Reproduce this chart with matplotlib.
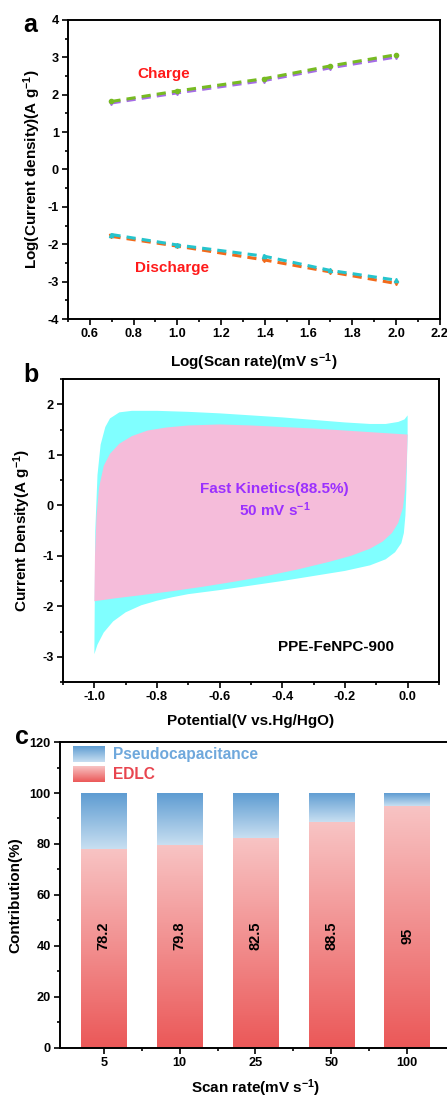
import matplotlib
matplotlib.use("Agg")
import matplotlib.pyplot as plt
import numpy as np
from matplotlib.colors import LinearSegmentedColormap
from matplotlib.ticker import MultipleLocator

plt.rcParams["font.family"] = ["Liberation Sans", "DejaVu Sans"]
plt.rcParams["font.weight"] = "bold"
plt.rcParams["axes.unicode_minus"] = False
plt.rcParams["mathtext.fontset"] = "custom"
plt.rcParams["mathtext.rm"] = "Liberation Sans:bold"
plt.rcParams["mathtext.bf"] = "Liberation Sans:bold"
plt.rcParams["mathtext.default"] = "bf"

# ---- panel a: log(i) vs log(v) ----
scan_rates = [5, 10, 25, 50, 100]
log_v = np.log10(scan_rates)
charge_pts = [1.82, 2.10, 2.43, 2.77, 3.07]
charge_fit = [1.78, 2.05, 2.38, 2.72, 3.01]
discharge_pts = [-1.74, -2.02, -2.32, -2.70, -2.96]
discharge_fit = [-1.79, -2.05, -2.42, -2.74, -3.05]

# ---- panel b: CV at 50 mV/s, total vs capacitive ----
cv_total_x = [-1.0, -0.997, -0.99, -0.98, -0.965, -0.95, -0.92, -0.88, -0.8, -0.7,
              -0.6, -0.5, -0.4, -0.3, -0.2, -0.12, -0.07, -0.03, -0.01, 0.0,
              0.0, -0.002, -0.004, -0.007, -0.012, -0.02, -0.04, -0.07, -0.12, -0.2,
              -0.3, -0.4, -0.5, -0.6, -0.7, -0.75, -0.8, -0.85, -0.9, -0.94,
              -0.97, -0.99, -1.0]
cv_total_y = [-2.95, -0.5, 0.6, 1.2, 1.55, 1.72, 1.84, 1.87, 1.87, 1.85,
              1.82, 1.78, 1.74, 1.69, 1.64, 1.61, 1.61, 1.65, 1.70, 1.78,
              1.40, 0.9, 0.3, -0.2, -0.55, -0.75, -0.93, -1.07, -1.19, -1.30,
              -1.40, -1.50, -1.59, -1.68, -1.76, -1.82, -1.89, -1.98, -2.12, -2.30,
              -2.52, -2.76, -2.95]
cv_cap_x = [-1.0, -0.998, -0.993, -0.985, -0.97, -0.95, -0.92, -0.88, -0.83, -0.77,
            -0.7, -0.6, -0.5, -0.4, -0.3, -0.2, -0.1, 0.0,
            0.0, -0.003, -0.008, -0.015, -0.03, -0.05, -0.08, -0.12, -0.18, -0.25,
            -0.35, -0.45, -0.55, -0.65, -0.75, -0.85, -0.93, -1.0]
cv_cap_y = [-1.9, -1.0, -0.2, 0.35, 0.78, 1.02, 1.22, 1.37, 1.48, 1.54,
            1.58, 1.60, 1.58, 1.55, 1.52, 1.48, 1.44, 1.40,
            1.40, 0.8, 0.3, -0.05, -0.35, -0.55, -0.72, -0.86, -1.00, -1.12,
            -1.27, -1.40, -1.51, -1.61, -1.70, -1.78, -1.84, -1.90]

# ---- panel c: contribution ratios ----
rate_labels = ["5", "10", "25", "50", "100"]
edlc = [78.2, 79.8, 82.5, 88.5, 95]
edlc_text = ["78.2", "79.8", "82.5", "88.5", "95"]
pseudo = [100 - e for e in edlc]

fig = plt.figure(figsize=(4.47, 10.97), dpi=100)
ax_a = fig.add_axes([0.152, 0.7092, 0.832, 0.2726])
ax_b = fig.add_axes([0.141, 0.3783, 0.841, 0.2762])
ax_c = fig.add_axes([0.134, 0.0447, 0.875, 0.2789])


def style(ax):
    for s in ax.spines.values():
        s.set_linewidth(1.4)
    ax.tick_params(which="both", direction="out", width=1.2, labelsize=9.2, pad=2.5)
    ax.tick_params(which="major", length=4)
    ax.tick_params(which="minor", length=2.5)
    for lab in ax.get_xticklabels() + ax.get_yticklabels():
        lab.set_fontweight("bold")


# a
dash = (0, (3, 2))
ax_a.plot(log_v, charge_fit, ls=dash, lw=2.2, color="#A56CE6", marker="v", ms=3)
ax_a.plot(log_v, charge_pts, ls=dash, lw=2.2, color="#77BB22", marker="o", ms=3)
ax_a.plot(log_v, discharge_fit, ls=dash, lw=2.2, color="#F26A1B", marker="v", ms=3)
ax_a.plot(log_v, discharge_pts, ls=dash, lw=2.2, color="#26C4CC", marker="^", ms=3)
ax_a.set_xlim(0.5, 2.2)
ax_a.set_ylim(-4, 4)
ax_a.xaxis.set_major_locator(MultipleLocator(0.2))
ax_a.xaxis.set_minor_locator(MultipleLocator(0.1))
ax_a.yaxis.set_major_locator(MultipleLocator(1))
ax_a.yaxis.set_minor_locator(MultipleLocator(0.5))
ax_a.text(0.937, 2.55, "Charge", color="#FF1A1A", fontsize=11, fontweight="bold",
          ha="center", va="center")
ax_a.text(0.975, -2.64, "Discharge", color="#FF1A1A", fontsize=11, fontweight="bold",
          ha="center", va="center")
ax_a.set_xlabel(r"Log(Scan rate)(mV s$^{-1}$)", fontsize=11, fontweight="bold", labelpad=8)
ax_a.set_ylabel(r"Log(Current density)(A g$^{-1}$)", fontsize=11, fontweight="bold", labelpad=3)
style(ax_a)

# b
ax_b.fill(cv_total_x, cv_total_y, color="#80FFFF", lw=0)
ax_b.fill(cv_cap_x, cv_cap_y, color="#F5BCDA", lw=0)
ax_b.set_xlim(-1.1, 0.1)
ax_b.set_ylim(-3.5, 2.5)
ax_b.xaxis.set_major_locator(MultipleLocator(0.2))
ax_b.xaxis.set_minor_locator(MultipleLocator(0.1))
ax_b.yaxis.set_major_locator(MultipleLocator(1))
ax_b.yaxis.set_minor_locator(MultipleLocator(0.5))
ax_b.text(-0.424, 0.33, "Fast Kinetics(88.5%)", color="#9B30FF", fontsize=11,
          fontweight="bold", ha="center", va="center")
ax_b.text(-0.424, -0.09, r"50 mV s$^{-1}$", color="#9B30FF", fontsize=11,
          fontweight="bold", ha="center", va="center")
ax_b.text(-0.23, -2.8, "PPE-FeNPC-900", color="black", fontsize=11,
          fontweight="bold", ha="center", va="center")
ax_b.set_xlabel("Potential(V vs.Hg/HgO)", fontsize=11, fontweight="bold", labelpad=8)
ax_b.set_ylabel(r"Current Density(A g$^{-1}$)", fontsize=11, fontweight="bold", labelpad=7)
style(ax_b)

# c
red_cm = LinearSegmentedColormap.from_list("edlc", ["#EB5858", "#F8C4C4"])
blue_cm = LinearSegmentedColormap.from_list("pseudo", ["#C8DFF1", "#5E9CD2"])
grad = np.linspace(0, 1, 256).reshape(-1, 1)
xs = np.arange(len(rate_labels))
w = 0.6
bars_e = ax_c.bar(xs, edlc, width=w, color="none", lw=0)
bars_p = ax_c.bar(xs, pseudo, bottom=edlc, width=w, color="none", lw=0)
for be, bp in zip(bars_e, bars_p):
    x0, y0, bw, bh = be.get_x(), be.get_y(), be.get_width(), be.get_height()
    im = ax_c.imshow(grad, cmap=red_cm, origin="lower", aspect="auto",
                     extent=[x0, x0 + bw, y0, y0 + bh], zorder=1)
    im.set_clip_path(be)
    x0, y0, bw, bh = bp.get_x(), bp.get_y(), bp.get_width(), bp.get_height()
    im = ax_c.imshow(grad, cmap=blue_cm, origin="lower", aspect="auto",
                     extent=[x0, x0 + bw, y0, y0 + bh], zorder=1)
    im.set_clip_path(bp)
for x, t in zip(xs, edlc_text):
    ax_c.text(x, 44, t, rotation=90, ha="center", va="center", fontsize=10.5,
              fontweight="bold", color="black")
# legend with gradient swatches
ax_c.imshow(grad[::-1], cmap=blue_cm, aspect="auto", extent=[-0.41, 0.01, 112.3, 118.2], zorder=2)
ax_c.imshow(grad[::-1], cmap=red_cm, aspect="auto", extent=[-0.41, 0.01, 104.4, 110.3], zorder=2)
ax_c.text(0.12, 115.2, "Pseudocapacitance", color="#6FA8DC", fontsize=11.2,
          fontweight="bold", va="center")
ax_c.text(0.12, 107.3, "EDLC", color="#E8454F", fontsize=11.2, fontweight="bold", va="center")
ax_c.set_xlim(-0.58, 4.58)
ax_c.set_ylim(0, 120)
ax_c.set_xticks(xs)
ax_c.set_xticklabels(rate_labels)
ax_c.set_xticks(xs[:-1] + 0.5, minor=True)
ax_c.yaxis.set_major_locator(MultipleLocator(20))
ax_c.yaxis.set_minor_locator(MultipleLocator(10))
ax_c.set_xlabel(r"Scan rate(mV s$^{-1}$)", fontsize=11, fontweight="bold", labelpad=6)
ax_c.set_ylabel("Contribution(%)", fontsize=11, fontweight="bold", labelpad=5)
style(ax_c)

fig.text(30 / 447, 1 - 25 / 1097, "a", fontsize=18, fontweight="bold", ha="center", va="center")
fig.text(31 / 447, 1 - 375 / 1097, "b", fontsize=18, fontweight="bold", ha="center", va="center")
fig.text(22 / 447, 1 - 737 / 1097, "c", fontsize=18, fontweight="bold", ha="center", va="center")

fig.savefig("out.png", dpi=100)
